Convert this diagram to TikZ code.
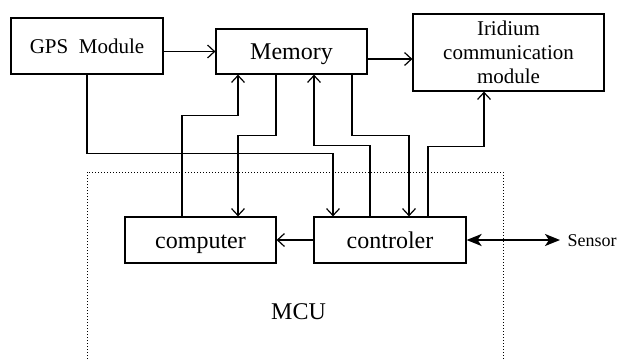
\documentclass[tikz,border=0pt]{standalone}
\usepackage{fontspec}
\setmainfont{Liberation Serif}
\usetikzlibrary{arrows.meta}
\begin{document}
\begin{tikzpicture}[x=1pt,y=-1pt,line width=1.2pt,
  block/.style={draw,inner sep=0pt,align=center,font=\fontsize{24}{26}\selectfont},
  oneline/.style={text height=16pt,text depth=0pt},
  arr/.style={-{Straight Barb[length=7pt,width=13pt]}},
  bidir/.style={line width=2pt,{Stealth[length=15pt,width=12pt,inset=4pt]}-{Stealth[length=15pt,width=12pt,inset=4pt]}},
  mcubox/.style={line width=1pt,dash pattern=on 1pt off 2pt}]
\useasboundingbox (0,0) rectangle (621,359);

% blocks
\node[block,oneline,text height=15pt,minimum width=152pt,minimum height=56pt,font=\fontsize{21}{24}\selectfont] (gps) at (87,46) {GPS\ \ Module};
\node[block,oneline,minimum width=151pt,minimum height=45pt] (mem) at (291.5,51.5) {Memory};
\node[block,minimum width=191pt,minimum height=77pt,font=\fontsize{21}{24}\selectfont] (irid) at (508.5,52.5) {Iridium\\communication\\module};
\node[block,oneline,minimum width=151pt,minimum height=46pt] (comp) at (200.5,240) {computer};
\node[block,oneline,minimum width=152pt,minimum height=46pt] (ctrl) at (390,240) {controler};
\node[inner sep=0pt,anchor=west,text height=13pt,text depth=0pt,font=\fontsize{18}{20}\selectfont] (sensor) at (567,240) {Sensor};
\node[inner sep=0pt,text height=16pt,text depth=0pt,font=\fontsize{24}{26}\selectfont] (mcu) at (298.5,311) {MCU};

% MCU boundary (open at the bottom)
\draw[mcubox] (87,359) -- (87,172) -- (503,172) -- (503,359);

% data paths
\draw[arr] (gps.east |- mem.west) -- (mem.west);
\coordinate (m1) at ([yshift=-7.5pt]mem.east);
\draw[arr] (m1) -- (m1 -| irid.west);
\draw[arr] (gps.south) -- ++(0,79) -| ([xshift=-57pt]ctrl.north);
\draw[arr] ([xshift=-18.5pt]comp.north) -- ++(0,-101) -| ([xshift=-53.5pt]mem.south);
\draw[arr] ([xshift=-15.5pt]mem.south) -- ++(0,61) -| ([xshift=37.5pt]comp.north);
\draw[arr] ([xshift=-20pt]ctrl.north) -- ++(0,-71) -| ([xshift=22.5pt]mem.south);
\draw[arr] ([xshift=60.5pt]mem.south) -- ++(0,61) -| ([xshift=19pt]ctrl.north);
\draw[arr] ([xshift=38pt]ctrl.north) -- ++(0,-70) -| ([xshift=-24.5pt]irid.south);
\draw[arr] (ctrl.west) -- (comp.east);
\draw[bidir] (ctrl.east) -- ([xshift=-7pt]sensor.west);
\end{tikzpicture}
\end{document}
